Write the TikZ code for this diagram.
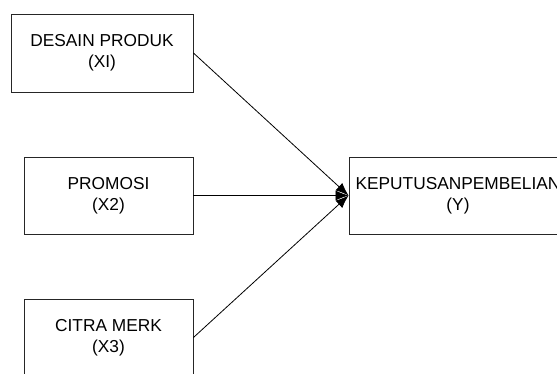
\documentclass[tikz,border=0pt]{standalone}
\usepackage{fontspec}
\setmainfont{Liberation Sans}
\usetikzlibrary{arrows.meta}
\begin{document}
\begin{tikzpicture}[x=1pt,y=-1pt,
  box/.style={draw=black!85, line width=0.9pt, inner sep=0pt, align=center,
    font=\fontsize{17.3}{21}\selectfont},
  conn/.style={draw=black, line width=0.8pt, -{Latex[length=13pt,width=10pt]}}]
\useasboundingbox (0,0) rectangle (557,374);
\clip (0,0) rectangle (557,374);
\fill[white] (0,0) rectangle (557,374);
\node[box, minimum width=182pt, minimum height=78pt] (b1) at (102,53) {DESAIN PRODUK\\(XI)};
\node[box, minimum width=169pt, minimum height=77pt] (b2) at (108.5,195.5) {PROMOSI\\(X2)};
\node[box, minimum width=169pt, minimum height=77pt] (b3) at (108.5,337.5) {CITRA MERK\\(X3)};
\node[box, minimum width=218pt, minimum height=77pt] (y) at (458,195.5) {KEPUTUSANPEMBELIAN\\(Y)};
\draw[conn] (b1.east) -- (y.west);
\draw[conn] (b2.east) -- (y.west);
\draw[conn] (b3.east) -- (y.west);
\end{tikzpicture}
\end{document}
